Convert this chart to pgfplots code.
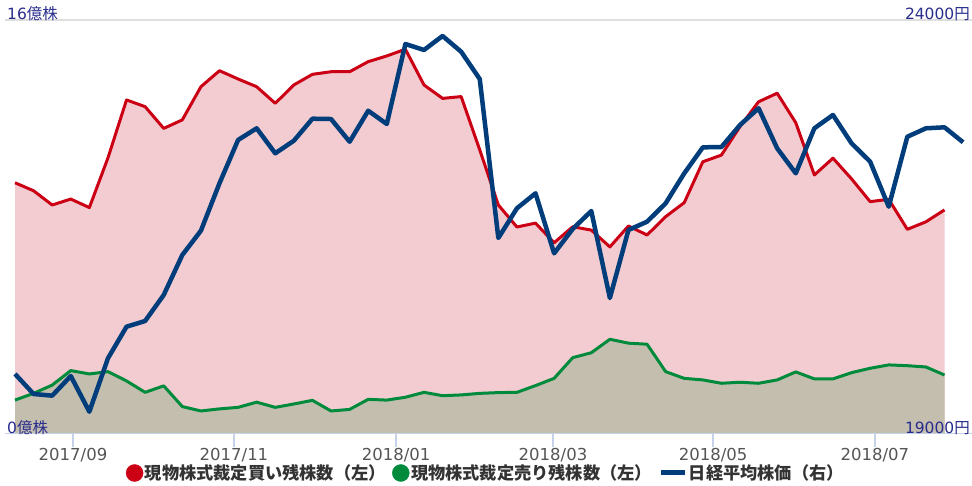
\documentclass[border=0pt]{standalone}
\usepackage{pgfplots}
\pgfplotsset{compat=1.18}
\usepackage{pgfplotstable}
\usepackage{fontspec}
\setmainfont{DejaVu Sans}
\newfontfamily\cjk{Noto Sans CJK JP}
\definecolor{redline}{RGB}{204,0,20}
\definecolor{pinkfill}{RGB}{242,204,208}
\definecolor{greenline}{RGB}{0,138,60}
\definecolor{tanfill}{RGB}{196,190,175}
\definecolor{blueline}{RGB}{0,61,122}
\definecolor{navytext}{RGB}{40,44,140}
\definecolor{tickgrey}{RGB}{85,85,85}
\definecolor{axisblue}{RGB}{197,211,234}
\definecolor{gridgrey}{RGB}{222,222,222}
\definecolor{legtext}{RGB}{51,51,51}

\pgfplotstableread{
i buy sell
0 9.71 1.31
1 9.40 1.57
2 8.85 1.89
3 9.08 2.45
4 8.75 2.32
5 10.67 2.41
6 12.91 2.05
7 12.65 1.61
8 11.81 1.86
9 12.14 1.06
10 13.42 0.89
11 14.04 0.97
12 13.72 1.03
13 13.42 1.23
14 12.78 1.03
15 13.49 1.16
16 13.90 1.30
17 14.00 0.89
18 14.00 0.95
19 14.39 1.34
20 14.61 1.31
21 14.87 1.42
22 13.49 1.61
23 12.97 1.48
24 13.04 1.51
25 10.98 1.57
26 8.85 1.60
27 8.00 1.61
28 8.15 1.87
29 7.39 2.15
30 8.01 2.95
31 7.88 3.14
32 7.23 3.66
33 8.04 3.51
34 7.69 3.47
35 8.40 2.41
36 8.94 2.15
37 10.52 2.09
38 10.78 1.96
39 11.88 2.00
40 12.84 1.96
41 13.17 2.09
42 12.03 2.40
43 10.01 2.13
44 10.66 2.13
45 9.86 2.37
46 8.98 2.54
47 9.07 2.67
48 7.91 2.64
49 8.20 2.59
50 8.66 2.28
}\zandaka

\pgfplotstableread{
i nikkei
0 19725
1 19483
2 19463
3 19700
4 19269
5 19914
6 20296
7 20365
8 20679
9 21162
10 21455
11 22028
12 22551
13 22692
14 22390
15 22542
16 22808
17 22804
18 22530
19 22904
20 22744
21 23710
22 23638
23 23807
24 23617
25 23287
26 21367
27 21726
28 21907
29 21182
30 21476
31 21693
32 20642
33 21464
34 21564
35 21786
36 22148
37 22462
38 22466
39 22732
40 22934
41 22450
42 22148
43 22692
44 22853
45 22511
46 22289
47 21745
48 22590
49 22692
50 22704
51 22523
}\nikkei

\begin{document}
\begin{tikzpicture}
\useasboundingbox (0,0) rectangle (972pt,486pt);
\begin{axis}[
  at={(5pt,52pt)}, anchor=south west,
  scale only axis, width=967pt, height=414pt,
  xmin=-0.538, xmax=51.48, ymin=0, ymax=16,
  axis on top,
  axis line style={draw=none},
  tick align=outside, major tick length=13pt,
  xtick pos=bottom,
  xtick={3.12,11.78,20.50,28.94,37.55,46.26},
  xticklabels={2017/09,2017/11,2018/01,2018/03,2018/05,2018/07},
  xtick style={draw=axisblue, line width=1.2pt},
  xticklabel style={font=\fontsize{16.5}{18}\selectfont, text=tickgrey, inner sep=1pt},
  ytick={0,16},
  yticklabels={0{\cjk 億株},16{\cjk 億株}},
  ytick pos=left,
  ytick style={draw=none},
  yticklabel style={font=\fontsize{15.5}{17}\selectfont, text=navytext, anchor=base west, inner sep=0pt, xshift=15pt},
]
\addplot[fill=pinkfill, draw=none] table[x=i, y=buy] {\zandaka} \closedcycle;
\addplot[fill=tanfill, draw=none] table[x=i, y=sell] {\zandaka} \closedcycle;
\addplot[redline, line width=3pt, line join=round] table[x=i, y=buy] {\zandaka};
\addplot[greenline, line width=3pt, line join=round] table[x=i, y=sell] {\zandaka};
\draw[gridgrey, line width=1.5pt] (rel axis cs:0,1) -- (rel axis cs:1,1);
\draw[axisblue, line width=2pt] (rel axis cs:0,0) -- (rel axis cs:1,0);
\end{axis}
\begin{axis}[
  at={(5pt,52pt)}, anchor=south west,
  scale only axis, width=967pt, height=414pt,
  xmin=-0.538, xmax=51.48, ymin=19000, ymax=24000,
  axis line style={draw=none},
  xtick=\empty,
  ytick={19000,24000},
  scaled y ticks=false,
  yticklabels={19000{\cjk 円},24000{\cjk 円}},
  yticklabel pos=right,
  ytick style={draw=none},
  major tick length=0pt,
  yticklabel style={font=\fontsize{15.5}{17}\selectfont, text=navytext, anchor=base east, inner sep=0pt, xshift=-2pt},
  legend columns=3,
  legend style={at={(0.5,0)}, anchor=center, yshift=-39pt, xshift=-3pt,
    draw=none, fill=none, inner sep=0pt,
    font=\cjk\bfseries\fontsize{17.2}{19}\selectfont, text=legtext,
    nodes={inner sep=1.5pt},
    /tikz/every even column/.append style={column sep=5pt}},
]
\addlegendimage{legend image code/.code={\fill[redline] (8.5pt,0pt) circle (8.5pt);}}
\addlegendentry{現物株式裁定買い残株数（左）}
\addlegendimage{legend image code/.code={\fill[greenline] (8.5pt,0pt) circle (8.5pt);}}
\addlegendentry{現物株式裁定売り残株数（左）}
\addlegendimage{legend image code/.code={\draw[blueline, line width=5pt] (0pt,0pt) -- (24pt,0pt);}}
\addlegendentry{日経平均株価（右）}
\addplot[blueline, line width=4.5pt, line join=round, forget plot] table[x=i, y=nikkei] {\nikkei};
\end{axis}
\end{tikzpicture}
\end{document}
